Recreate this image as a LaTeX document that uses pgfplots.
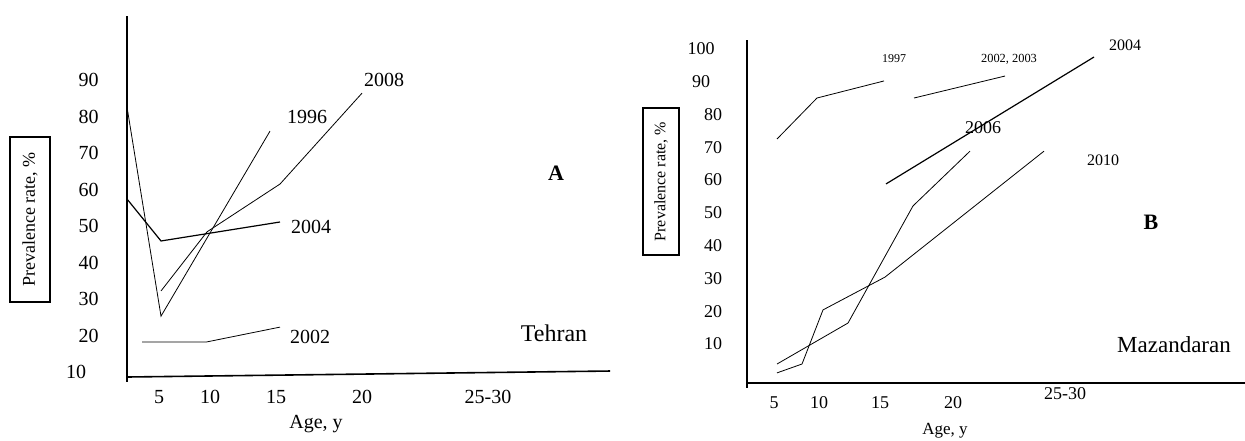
\documentclass[border=0pt]{standalone}
\usepackage{fontspec}
\setmainfont{Liberation Serif}
\usepackage{pgfplots}
\pgfplotsset{compat=1.18}

% one picture pixel = 0.5pt
\pgfplotsset{
  panel/.style={
    axis x line*=bottom, axis y line*=left,
    axis line style={draw=none}, major tick length=0pt,
    clip=false,
    /pgf/number format/assume math mode=true,
    cycle list={{black, mark=none, line width=0.6pt}},
  },
}

\begin{document}
\begin{tikzpicture}
\useasboundingbox (0,0) rectangle (622.5pt,-220pt);

% ---- A: Tehran ----
\begin{axis}[panel,
  at={(63.5pt,-188.5pt)}, anchor=south west,
  x=0.5pt, y=1.825pt,
  xmin=127, xmax=610, ymin=8.63, ymax=107.5,
  ytick={20,30,...,90},
  yticklabel style={anchor=center, xshift=-19.25pt, font=\fontsize{10}{12}\selectfont},
  extra y ticks={10},
  extra y tick style={yticklabel style={xshift=-6.25pt}},
  xtick={159,210,276,362,488},
  xticklabels={5,10,15,20,25-30},
  xticklabel style={anchor=center, yshift=-10pt, font=\fontsize{10}{12}\selectfont},
]
\draw[line width=0.8pt] (axis cs:127,107.5) -- (axis cs:127,7.26);
\draw[line width=0.8pt] (axis cs:127,8.63) -- (axis cs:610,10.27);
% 1996
\addplot coordinates {(127,82.6) (161,25.3) (270,76.0)};
% 2008
\addplot coordinates {(161,32.2) (207,48.4) (280,61.5) (362,86.4)};
% 2004
\addplot coordinates {(127,57.4) (161,45.9) (280,51.1)};
% 2002
\addplot coordinates {(142,18.2) (206,18.2) (280,22.3)};
\end{axis}

% ---- B: Mazandaran ----
\begin{axis}[panel,
  at={(373.5pt,-191.5pt)}, anchor=south west,
  x=0.5pt, y=1.64pt,
  xmin=747, xmax=1245, ymin=-1.89, ymax=102.68,
  ytick={10,20,...,80},
  yticklabel style={anchor=center, xshift=-17pt, font=\fontsize{9}{11}\selectfont},
  extra y ticks={90,100},
  extra y tick style={yticklabel style={xshift=-6pt}},
  xtick={774,819,880,953},
  xticklabels={5,10,15,20},
  xticklabel style={anchor=center, yshift=-10pt, font=\fontsize{9}{11}\selectfont},
  extra x ticks={1065},
  extra x tick labels={25-30},
  extra x tick style={xticklabel style={yshift=4.5pt}},
]
\draw[line width=0.8pt] (axis cs:747,102.68) -- (axis cs:747,-3.41);
\draw[line width=0.8pt] (axis cs:747,-1.89) -- (axis cs:1245,-1.89);
% 1997
\addplot coordinates {(777,72.5) (817,85.0) (884,90.2)};
% 2002, 2003
\addplot coordinates {(914,85.0) (1005,91.7)};
% 2004
\addplot coordinates {(886,58.8) (1094,97.5)};
% 2006
\addplot coordinates {(777,3.9) (848,16.4) (913,52.1) (970,68.8)};
% 2010
\addplot coordinates {(777,1.2) (802,3.9) (823,20.4) (885,30.4) (1044,68.8)};
\end{axis}

\begin{scope}[x=0.5pt,y=-0.5pt]
\node[draw, line width=0.6pt, rotate=90, minimum width=82.5pt, minimum height=20pt,
  inner sep=0pt, font=\fontsize{9}{11}\selectfont] at (30,219.5) {Prevalence rate, \%};
\node[draw, line width=0.6pt, rotate=90, minimum width=73.5pt, minimum height=18pt,
  inner sep=0pt, font=\fontsize{8}{10}\selectfont] at (661,181.5) {Prevalence rate, \%};

\begin{scope}[every node/.style={font=\fontsize{10}{12}\selectfont, inner sep=0pt}]
\node at (307,117) {1996};
\node at (384,80) {2008};
\node at (311,227) {2004};
\node at (310,337) {2002};
\node at (316,424) {Age, y};
\end{scope}
\node[font=\fontsize{11}{13}\selectfont\bfseries, inner sep=0pt] at (556,173) {A};
\node[font=\fontsize{12}{14}\selectfont, inner sep=0pt] at (554,333) {Tehran};

\node[font=\fontsize{6}{7}\selectfont, inner sep=0pt] at (894,59) {1997};
\node[font=\fontsize{6.2}{7}\selectfont, inner sep=0pt] at (1009,59) {2002, 2003};
\node[font=\fontsize{8}{10}\selectfont, inner sep=0pt] at (1125,45) {2004};
\node[font=\fontsize{9}{11}\selectfont, inner sep=0pt] at (983,128) {2006};
\node[font=\fontsize{8}{10}\selectfont, inner sep=0pt] at (1103,160) {2010};
\node[font=\fontsize{11}{13}\selectfont\bfseries, inner sep=0pt] at (1151,222) {B};
\node[font=\fontsize{11.5}{13}\selectfont, inner sep=0pt] at (1174,345) {Mazandaran};
\node[font=\fontsize{8.5}{10}\selectfont, inner sep=0pt] at (945,431) {Age, y};
\end{scope}
\end{tikzpicture}
\end{document}
